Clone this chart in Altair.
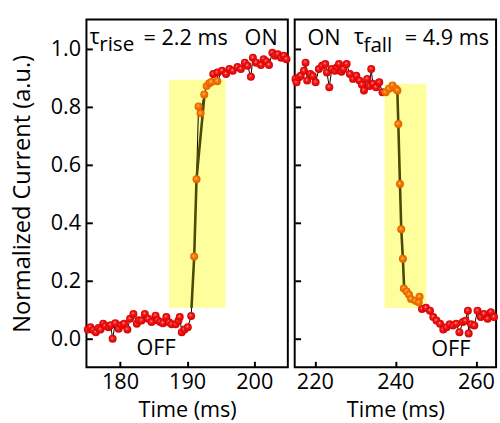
import altair as alt
import pandas as pd

FONT = "Open Sans"

# ---------------- data ----------------
# Left panel: rise
left_red_t = [175.2, 175.6, 176.0, 176.4, 176.8, 177.1, 177.5, 177.8, 178.3, 178.6,
              178.9, 179.3, 179.8, 180.2, 180.6, 181.1, 181.5, 182.0, 182.5, 182.8,
              183.2, 183.7, 184.2, 184.7, 185.3, 185.6, 186.0, 186.4, 186.9, 187.3,
              187.7, 188.3, 188.7, 188.9, 189.2, 189.6, 190.1, 190.6,
              193.9, 194.5, 195.2, 195.8, 196.3, 196.8, 197.5, 198.0, 198.6, 199.0,
              199.5, 199.8, 200.3, 201.0, 201.4, 201.8, 202.2, 202.7, 203.1, 203.5,
              204.0, 204.4, 204.8]
left_red_v = [0.030, 0.038, 0.028, 0.021, 0.035, 0.030, 0.050, 0.042, 0.038, 0.045,
              -0.002, 0.052, 0.033, 0.045, 0.050, 0.030, 0.067, 0.084, 0.050, 0.062,
              0.061, 0.084, 0.067, 0.056, 0.078, 0.062, 0.056, 0.052, 0.073, 0.055,
              0.048, 0.048, 0.060, 0.073, 0.021, 0.030, 0.038, 0.077,
              0.912, 0.917, 0.923, 0.912, 0.929, 0.923, 0.936, 0.929, 0.951, 0.940,
              0.902, 0.968, 0.951, 0.943, 0.963, 0.955, 0.943, 0.985, 0.975, 0.980,
              0.968, 0.975, 0.963]
left_orange_t = [191.05, 191.4, 191.7, 192.0, 192.55, 192.9, 193.3, 193.6, 194.5]
left_orange_v = [0.282, 0.549, 0.800, 0.776, 0.841, 0.870, 0.880, 0.884, 0.887]
left_fit_t = [190.65, 191.05, 191.4, 192.55]
left_fit_v = [0.105, 0.28, 0.55, 0.83]
left_box_t = [187.3, 195.7]
left_box_v = [0.105, 0.892]

# Right panel: fall
right_red_t = [215.2, 215.45, 216.0, 216.5, 217.3, 217.7, 218.1, 218.9, 219.5, 220.2,
               221.0, 221.8, 222.6, 223.0, 223.6, 224.2, 225.0, 225.5, 226.0, 226.6,
               227.1, 227.9, 228.7, 229.5, 230.3, 231.1, 231.7, 232.2, 233.0, 233.6,
               234.0, 234.4, 235.2, 236.0, 236.8,
               246.6, 247.6, 248.6, 249.4, 250.2, 251.1, 251.9, 252.7, 253.5, 254.3,
               255.1, 255.9, 256.75, 257.4, 258.0, 258.2, 258.8, 259.6, 260.4, 261.2,
               262.0, 262.9, 263.7, 264.5]
right_red_v = [0.895, 0.883, 0.900, 0.906, 0.923, 0.951, 0.889, 0.912, 0.905, 0.883,
               0.929, 0.940, 0.946, 0.917, 0.866, 0.929, 0.923, 0.935, 0.946, 0.920,
               0.929, 0.946, 0.912, 0.895, 0.906, 0.889, 0.875, 0.855, 0.895, 0.870,
               0.929, 0.878, 0.866, 0.883, 0.849,
               0.101, 0.105, 0.095, 0.073, 0.061, 0.050, 0.030, 0.038, 0.048, 0.044,
               0.050, 0.021, 0.056, 0.060, 0.095, 0.016, 0.048, 0.044, 0.095, 0.073,
               0.084, 0.067, 0.090, 0.073]
right_orange_t = [237.6, 238.4, 239.3, 240.1, 240.5, 240.73, 241.14, 241.46, 241.87,
                  242.1, 242.8, 243.4, 243.9, 245.0, 245.8, 246.0]
right_orange_v = [0.849, 0.861, 0.872, 0.861, 0.855, 0.739, 0.532, 0.376, 0.274,
                  0.172, 0.161, 0.150, 0.135, 0.129, 0.124, 0.143]
right_fit_t = [240.5, 240.73, 241.14, 241.46, 241.87, 242.2]
right_fit_v = [0.85, 0.739, 0.532, 0.376, 0.274, 0.165]
right_box_t = [237.3, 247.7]
right_box_v = [0.104, 0.878]

y_ticks = [0.0, 0.2, 0.4, 0.6, 0.8, 1.0]
left_x_ticks = [180, 190, 200]
right_x_ticks = [220, 240, 260]


def ball(light, main, dark):
    return {
        "gradient": "radial",
        "x1": 0.42, "y1": 0.38, "r1": 0.0,
        "x2": 0.5, "y2": 0.5, "r2": 0.55,
        "stops": [
            {"offset": 0.0, "color": light},
            {"offset": 0.3, "color": main},
            {"offset": 1.0, "color": dark},
        ],
    }


RED = ball("#ffd0d0", "#ff1a1a", "#c80000")
ORANGE = ball("#ffe0b0", "#ff8000", "#d85a00")


def panel(red_t, red_v, or_t, or_v, fit_t, fit_v, box_t, box_v,
          xdom, xticks, show_y, texts):
    red = pd.DataFrame({"t": red_t, "v": red_v})
    orange = pd.DataFrame({"t": or_t, "v": or_v})
    allpts = pd.concat([red, orange]).sort_values("t")
    fit = pd.DataFrame({"t": fit_t, "v": fit_v})
    box = pd.DataFrame({"t0": [box_t[0]], "t1": [box_t[1]],
                        "v0": [box_v[0]], "v1": [box_v[1]]})

    xscale = alt.Scale(domain=xdom, nice=False, zero=False)
    yscale = alt.Scale(domain=[-0.1, 1.1], nice=False, zero=False)
    xaxis = alt.Axis(values=xticks, title="Time (ms)", grid=False, domain=False,
                     offset=-6, tickSize=6, tickWidth=2, tickColor="black",
                     labelFontSize=22, titleFontSize=22, labelFont=FONT,
                     titleFont=FONT, titleFontWeight="normal", labelColor="black",
                     titleColor="black", labelPadding=5, titlePadding=7,
                     labelBaseline="top")
    if show_y:
        yaxis = alt.Axis(values=y_ticks, format=".1f",
                         title="Normalized Current (a.u.)", grid=False,
                         domain=False, offset=-6, tickSize=6, tickWidth=2,
                         tickColor="black", labelFontSize=22, titleFontSize=24,
                         labelFont=FONT, titleFont=FONT, titleFontWeight="normal",
                         labelColor="black", titleColor="black", labelPadding=6,
                         titlePadding=16)
    else:
        yaxis = alt.Axis(values=y_ticks, labels=False, title=None, grid=False,
                         domain=False, offset=-6, tickSize=6, tickWidth=2,
                         tickColor="black", minExtent=0)

    X = lambda f: alt.X(f, type="quantitative", scale=xscale, axis=xaxis)
    Y = lambda f: alt.Y(f, type="quantitative", scale=yscale, axis=yaxis)

    rect = alt.Chart(box).mark_rect(color="#fffe9c").encode(
        x=X("t0"), x2="t1", y=Y("v0"), y2="v1")
    line = alt.Chart(allpts).mark_line(color="black", strokeWidth=1).encode(
        x=X("t"), y=Y("v"), order="t:Q")
    fitl = alt.Chart(fit).mark_line(color="#4a4a00", strokeWidth=2.6).encode(
        x=X("t"), y=Y("v"), order="t:Q")
    pr = alt.Chart(red).mark_circle(size=66, opacity=1, color=RED).encode(
        x=X("t"), y=Y("v"))
    po = alt.Chart(orange).mark_circle(size=66, opacity=1, color=ORANGE).encode(
        x=X("t"), y=Y("v"))
    layers = [rect, line, fitl, pr, po]
    one = pd.DataFrame({"a": [0]})
    for txt, px, py, size in texts:
        layers.append(
            alt.Chart(one).mark_text(text=txt, font=FONT, fontSize=size,
                                     align="left", baseline="alphabetic",
                                     color="black").encode(
                x=alt.value(px), y=alt.value(py)))
    return alt.layer(*layers).properties(width=205, height=354)


left = panel(left_red_t, left_red_v, left_orange_t, left_orange_v,
             left_fit_t, left_fit_v, left_box_t, left_box_v,
             [175, 205], left_x_ticks, True,
             [("τ", 3, 25, 22), ("rise", 13, 32, 21), ("= 2.2 ms", 58, 26, 22),
              ("ON", 161, 26, 22), ("OFF", 51, 342, 22)])
right = panel(right_red_t, right_red_v, right_orange_t, right_orange_v,
              right_fit_t, right_fit_v, right_box_t, right_box_v,
              [215, 265], right_x_ticks, False,
              [("ON", 13, 26, 22), ("τ", 60, 25, 22), ("fall", 70, 33, 21),
               ("= 4.9 ms", 112, 26, 22), ("OFF", 139, 343, 22)])

chart = alt.hconcat(left, right, spacing=-2).properties(
    padding={"left": 10, "top": 15, "right": 0, "bottom": 0},
    background="white",
).configure_view(stroke="black", strokeWidth=2)

chart.save("out.html", embed_options={"renderer": "svg", "actions": False})
